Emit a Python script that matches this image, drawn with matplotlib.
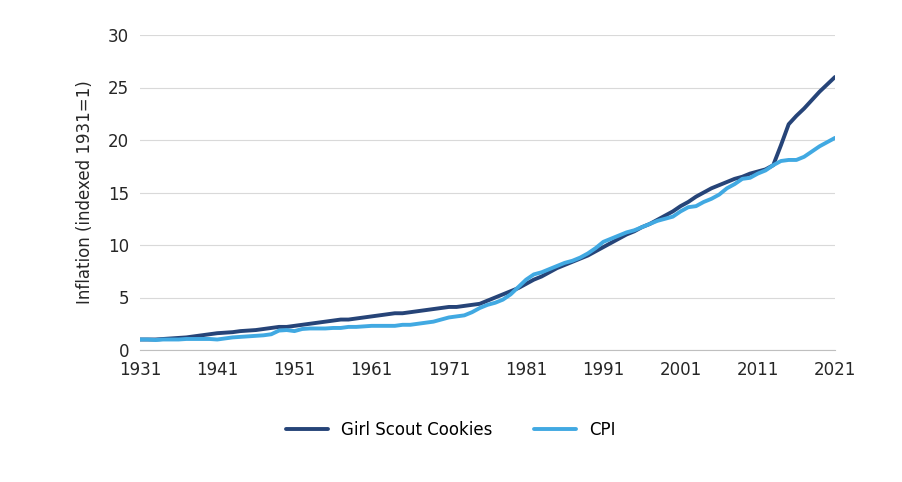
import matplotlib
matplotlib.use("Agg")
import matplotlib.pyplot as plt

years = list(range(1931, 2022))
cookies = [1.0,1.0,1.0,1.05,1.1,1.15,1.2,1.3,1.4,1.5,1.6,1.65,1.7,1.8,1.85,1.9,2.0,2.1,2.2,2.2,
           2.3,2.4,2.5,2.6,2.7,2.8,2.9,2.9,3.0,3.1,3.2,3.3,3.4,3.5,3.5,3.6,3.7,3.8,3.9,4.0,
           4.1,4.1,4.2,4.3,4.4,4.7,5.0,5.3,5.6,5.9,6.3,6.7,7.0,7.4,7.8,8.1,8.4,8.7,9.0,9.4,
           9.8,10.2,10.6,11.0,11.3,11.7,12.0,12.4,12.8,13.2,13.7,14.1,14.6,15.0,15.4,15.7,16.0,16.3,16.5,16.8,
           17.0,17.2,17.6,19.5,21.5,22.3,23.0,23.8,24.6,25.3,26.0]
cpi = [1.0,1.0,0.95,1.0,1.0,1.0,1.05,1.05,1.05,1.05,1.0,1.1,1.2,1.25,1.3,1.35,1.4,1.5,1.85,1.9,
       1.8,2.0,2.05,2.05,2.05,2.1,2.1,2.2,2.2,2.25,2.3,2.3,2.3,2.3,2.4,2.4,2.5,2.6,2.7,2.9,
       3.1,3.2,3.3,3.6,4.0,4.3,4.5,4.8,5.3,6.0,6.7,7.2,7.4,7.7,8.0,8.3,8.5,8.8,9.2,9.7,
       10.3,10.6,10.9,11.2,11.4,11.7,12.0,12.3,12.5,12.7,13.2,13.6,13.7,14.1,14.4,14.8,15.4,15.8,16.3,16.4,
       16.8,17.1,17.6,18.0,18.1,18.1,18.4,18.9,19.4,19.8,20.2]

fig = plt.figure(figsize=(9.02, 4.82), dpi=100)
ax = fig.add_axes([140/902, 1-350/482, 695/902, 315/482])
ax.plot(years, cookies, color="#264478", lw=2.8, label="Girl Scout Cookies", solid_capstyle="round")
ax.plot(years, cpi, color="#41A9E2", lw=2.8, label="CPI", solid_capstyle="round")
ax.set_xlim(1931, 2021)
ax.set_ylim(0, 30)
ax.set_xticks(list(range(1931, 2022, 10)))
ax.set_yticks(range(0, 31, 5))
ax.yaxis.grid(True, color="#d9d9d9", lw=0.8)
ax.set_axisbelow(True)
for s in ["top", "right", "left"]:
    ax.spines[s].set_visible(False)
ax.spines["bottom"].set_color("#bfbfbf")
ax.tick_params(length=0, labelsize=12, colors="#262626", pad=8)
ax.set_ylabel("Inflation (indexed 1931=1)", fontsize=12, color="#262626", labelpad=10)
fig.legend(loc="center", bbox_to_anchor=(0.5, 1-430/482), ncol=2, frameon=False, fontsize=12,
           handlelength=2.5, columnspacing=2.5)
fig.savefig("out.png", dpi=100)
